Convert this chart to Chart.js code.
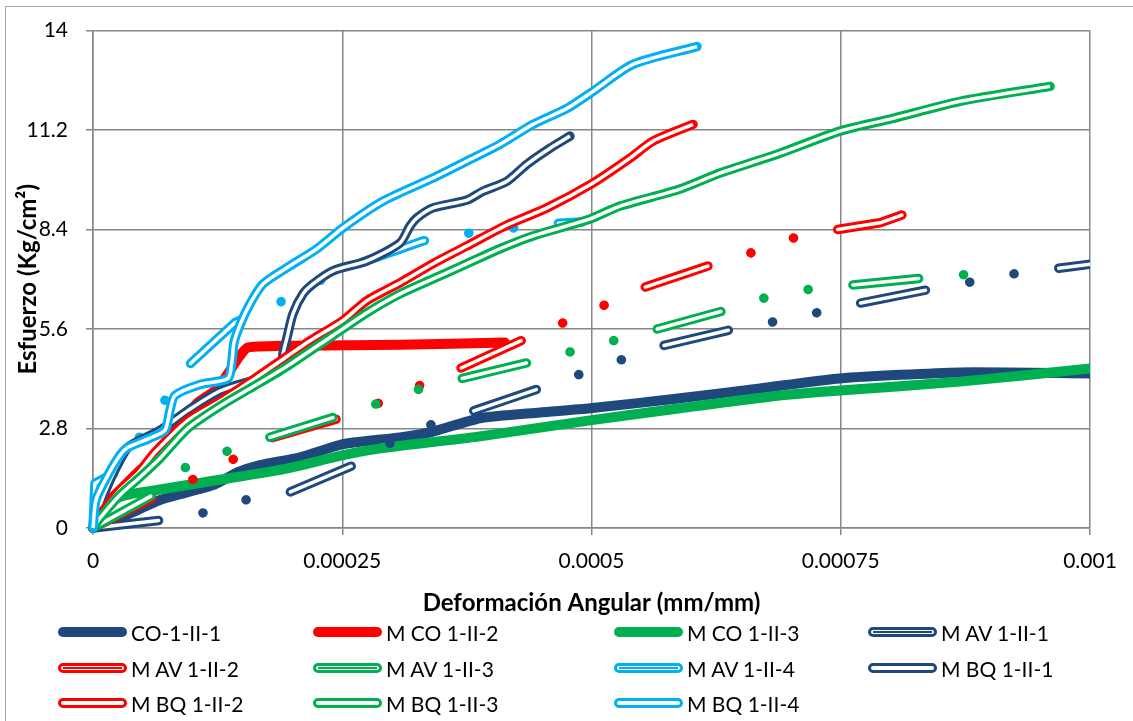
<!DOCTYPE html>
<html>
<head>
<meta charset="utf-8">
<script src="https://cdn.jsdelivr.net/npm/chart.js@4.4.0/dist/chart.umd.min.js"></script>
<style>
  body { margin: 0; background: #fff; font-family: Lato, sans-serif; }
  #frame { position: absolute; left: 5px; top: 6px; width: 1200px; height: 800px; border-left: 1px solid #a6a6a6; border-top: 1px solid #a6a6a6; }
  #wrap { position: absolute; left: 0; top: 0; width: 1133px; height: 625px; }
  #legend { position: absolute; left: 0; top: 0; width: 1133px; height: 721px; }
  .item { position: absolute; height: 30px; display: flex; align-items: center; font-size: 21px; color: #000; white-space: nowrap; }
  .swatch { position: relative; width: 69px; height: 10px; box-sizing: border-box; border-radius: 5px; margin-right: 4px; }
  .swatch .mid { position: absolute; left: 2px; right: 2px; top: 1px; height: 2px; }
</style>
</head>
<body>
<div id="frame"></div>
<div id="wrap"><canvas id="stressChart"></canvas></div>
<div id="legend"></div>
<script>
const NAVY = '#1F497D';
const RED = '#FF0000';
const GREEN = '#00B050';
const SKY = '#00B0F0';
const GRID = '#868686';

const xTicks = [0, 0.00025, 0.0005, 0.00075, 0.001];
const xTickLabels = ['0', '0.00025', '0.0005', '0.00075', '0.001'];
const yTicks = [0, 2.8, 5.6, 8.4, 11.2, 14];
const yTickLabels = ['0', '2.8', '5.6', '8.4', '11.2', '14'];

// CO-1-II-1
const co1X = [0, 0.0000221, 0.0000451, 0.0000672, 0.0000953, 0.0001224, 0.0001454, 0.0001675, 0.0002076, 0.0002508, 0.0003079, 0.000338, 0.0003882, 0.0004483, 0.0004985, 0.0005888, 0.000669, 0.0007492, 0.0008696, 0.001];
const co1Y = [0, 0.22, 0.51, 0.79, 1.01, 1.23, 1.57, 1.77, 1.99, 2.36, 2.55, 2.69, 3.09, 3.25, 3.37, 3.65, 3.93, 4.21, 4.38, 4.35];

// M CO 1-II-2
const mco2X = [0, 0.000007, 0.0000271, 0.0000471, 0.0000622, 0.0000822, 0.0001043, 0.0001224, 0.0001354, 0.0001474, 0.0001555, 0.0002076, 0.0003079, 0.0004132];
const mco2Y = [0, 0.51, 1.07, 1.63, 1.99, 2.75, 3.51, 3.87, 4.35, 4.85, 5.08, 5.13, 5.16, 5.22];

// M CO 1-II-3
const mco3X = [0, 0.000007, 0.0000191, 0.0000371, 0.0000642, 0.0001254, 0.0001956, 0.0002508, 0.0002879, 0.000338, 0.0003882, 0.0004985, 0.0005888, 0.0006891, 0.0007492, 0.0008696, 0.001];
const mco3Y = [0, 0.45, 0.79, 0.95, 1.07, 1.35, 1.68, 2.05, 2.24, 2.41, 2.58, 3.03, 3.37, 3.73, 3.87, 4.12, 4.49];

// M AV 1-II-1
const mav1X = [0, 0.0000772, 0.0001153, 0.0001555, 0.0001976, 0.0002658, 0.0003009, 0.00034, 0.0003801, 0.0004513, 0.0004905, 0.0005306, 0.0005687, 0.0006439, 0.0006841, 0.0007262, 0.0007663, 0.0008415, 0.0008816, 0.0009228, 0.0009629, 0.00101];
const mav1Y = [0, 0.25, 0.45, 0.81, 1.01, 1.82, 2.44, 2.92, 3.28, 3.96, 4.35, 4.74, 5.11, 5.61, 5.81, 6.06, 6.31, 6.73, 6.93, 7.15, 7.29, 7.46];

// M AV 1-II-2
const mav2X = [0, 0.0000672, 0.0001053, 0.0001424, 0.0001805, 0.0002497, 0.0002909, 0.00033, 0.0003681, 0.0004363, 0.0004744, 0.0005135, 0.0005517, 0.0006239, 0.000663, 0.0007021, 0.0007442, 0.0007894, 0.0008175];
const mav2Y = [0, 0.95, 1.43, 1.96, 2.55, 3.11, 3.56, 4.04, 4.49, 5.36, 5.81, 6.28, 6.76, 7.44, 7.77, 8.16, 8.39, 8.59, 8.87];

// M AV 1-II-3
const mav3X = [0, 0.0000672, 0.0000953, 0.0001344, 0.0001745, 0.0002477, 0.0002859, 0.000326, 0.0003661, 0.0004413, 0.0004804, 0.0005216, 0.0005607, 0.0006359, 0.000674, 0.0007161, 0.0007543, 0.0008345, 0.0008736];
const mav3Y = [0, 1.04, 1.77, 2.16, 2.53, 3.17, 3.51, 3.90, 4.18, 4.69, 4.97, 5.27, 5.56, 6.14, 6.48, 6.71, 6.82, 7.04, 7.13];

// M AV 1-II-4
const mav4X = [0, 0.000002, 0.0000271, 0.0000471, 0.0000702, 0.0000923, 0.0001424, 0.0001846, 0.0002227, 0.0002598, 0.000331, 0.0003711, 0.0004142, 0.0004554, 0.0004905];
const mav4Y = [0, 1.26, 1.63, 2.58, 3.51, 4.49, 5.78, 6.31, 6.90, 7.38, 8.08, 8.28, 8.42, 8.56, 8.61];

// M BQ 1-II-1
const mbq1X = [0, 0.000007, 0.0000171, 0.0000271, 0.0000351, 0.0000471, 0.0000672, 0.0000953, 0.0001284, 0.0001675, 0.0001876, 0.0001906, 0.0001946, 0.0002006, 0.0002106, 0.0002207, 0.0002407, 0.0002748, 0.0003079, 0.000318, 0.000325, 0.000341, 0.0003751, 0.0003912, 0.0004152, 0.0004353, 0.0004584, 0.0004784];
const mbq1Y = [0, 0.65, 1.35, 1.91, 2.27, 2.47, 2.75, 3.31, 3.87, 4.21, 4.43, 4.91, 5.36, 6.03, 6.59, 6.87, 7.24, 7.52, 8.02, 8.50, 8.73, 9.01, 9.23, 9.48, 9.76, 10.24, 10.69, 11.03];

// M BQ 1-II-2
const mbq2X = [0, 0.000007, 0.0000271, 0.0000451, 0.0000622, 0.0000953, 0.0001284, 0.0001625, 0.0001956, 0.0002177, 0.0002508, 0.0002748, 0.0003079, 0.000341, 0.0003751, 0.0004152, 0.0004554, 0.0005015, 0.0005386, 0.0005617, 0.0006018];
const mbq2Y = [0, 0.36, 1.07, 1.54, 2.13, 3.03, 3.59, 4.21, 4.85, 5.27, 5.84, 6.40, 6.90, 7.44, 7.94, 8.53, 9.01, 9.71, 10.41, 10.89, 11.36];

// M BQ 1-II-3
const mbq3X = [0, 0.000007, 0.0000271, 0.0000471, 0.0000672, 0.0000953, 0.0001284, 0.0001625, 0.0001956, 0.0002407, 0.0002748, 0.0003079, 0.000341, 0.0003751, 0.0004082, 0.0004413, 0.0004985, 0.0005286, 0.0005888, 0.0006289, 0.0006891, 0.0007492, 0.0008024, 0.0008696, 0.0009599];
const mbq3Y = [0, 0.28, 0.93, 1.43, 1.96, 2.81, 3.45, 4.01, 4.57, 5.42, 6.06, 6.59, 7.01, 7.44, 7.86, 8.22, 8.70, 9.06, 9.54, 9.99, 10.55, 11.17, 11.53, 12.01, 12.43];

// M BQ 1-II-4
const mbq4X = [0, 0.000003, 0.000015, 0.0000271, 0.0000351, 0.0000572, 0.0000722, 0.0000772, 0.0000822, 0.0001073, 0.0001354, 0.0001394, 0.0001414, 0.0001484, 0.0001575, 0.0001705, 0.0001976, 0.0002247, 0.0002508, 0.0002909, 0.000341, 0.0003751, 0.0004082, 0.0004413, 0.0004754, 0.0005015, 0.0005416, 0.0006058];
const mbq4Y = [0, 0.79, 1.49, 2.05, 2.27, 2.53, 2.75, 3.31, 3.73, 4.04, 4.21, 4.71, 5.22, 5.78, 6.31, 6.87, 7.38, 7.86, 8.45, 9.20, 9.85, 10.33, 10.80, 11.36, 11.81, 12.29, 13.05, 13.55];

// style: thick = solid heavy line, dashed = double outline long-dash-dot-dot, double = double solid line
const seriesList = [
  { label: 'CO-1-II-1', color: NAVY, style: 'thick', x: co1X, y: co1Y },
  { label: 'M CO 1-II-2', color: RED, style: 'thick', x: mco2X, y: mco2Y },
  { label: 'M CO 1-II-3', color: GREEN, style: 'thick', x: mco3X, y: mco3Y },
  { label: 'M AV 1-II-1', color: NAVY, style: 'dashed', x: mav1X, y: mav1Y },
  { label: 'M AV 1-II-2', color: RED, style: 'dashed', x: mav2X, y: mav2Y },
  { label: 'M AV 1-II-3', color: GREEN, style: 'dashed', x: mav3X, y: mav3Y },
  { label: 'M AV 1-II-4', color: SKY, style: 'dashed', x: mav4X, y: mav4Y },
  { label: 'M BQ 1-II-1', color: NAVY, style: 'double', x: mbq1X, y: mbq1Y },
  { label: 'M BQ 1-II-2', color: RED, style: 'double', x: mbq2X, y: mbq2Y },
  { label: 'M BQ 1-II-3', color: GREEN, style: 'double', x: mbq3X, y: mbq3Y },
  { label: 'M BQ 1-II-4', color: SKY, style: 'double', x: mbq4X, y: mbq4Y }
];

const DASH = [66, 45, 0.1, 45, 0.1, 45];
const DASH_INNER = [66, 135.2];
const CLIP = { left: 6, top: 6, right: 0, bottom: 6 };

const datasets = [];
seriesList.forEach((s, i) => {
  const pts = s.x.map((x, k) => ({ x: x, y: s.y[k] }));
  const order = 1000 - i * 10;
  const common = {
    data: pts, showLine: true, fill: false, pointRadius: 0, pointHoverRadius: 0,
    borderCapStyle: 'round', borderJoinStyle: 'round', clip: CLIP
  };
  if (s.style === 'thick') {
    datasets.push(Object.assign({}, common, { label: s.label, borderColor: s.color, borderWidth: 10, tension: 0.2, order: order }));
    return;
  }
  const dashed = s.style === 'dashed';
  const tension = dashed ? 0 : 0.25;
  datasets.push(Object.assign({}, common, {
    label: s.label, borderColor: s.color, borderWidth: 9.5,
    borderDash: dashed ? DASH : [], tension: tension, order: order
  }));
  datasets.push(Object.assign({}, common, {
    label: s.label + ' inner', borderColor: '#ffffff', borderWidth: 3.5,
    borderDash: dashed ? DASH_INNER : [], borderCapStyle: dashed ? 'round' : 'butt',
    tension: tension, order: order - 1
  }));
});

Chart.defaults.font.family = 'Lato, sans-serif';
Chart.defaults.color = '#000';

const ctx = document.getElementById('stressChart').getContext('2d');
const stressChart = new Chart(ctx, {
  type: 'scatter',
  data: { datasets: datasets },
  options: {
    responsive: true,
    maintainAspectRatio: false,
    animation: false,
    events: [],
    layout: { padding: { top: 29, right: 43, left: 0, bottom: 0 } },
    plugins: {
      legend: { display: false },
      tooltip: { enabled: false }
    },
    scales: {
      x: {
        type: 'linear',
        min: 0,
        max: 0.001,
        afterFit: scale => { scale.height = 97; },
        afterBuildTicks: scale => { scale.ticks = xTicks.map(v => ({ value: v })); },
        ticks: {
          padding: 14,
          maxRotation: 0,
          autoSkip: false,
          font: { size: 21 },
          callback: value => xTickLabels[xTicks.indexOf(value)]
        },
        grid: { color: GRID, lineWidth: 1.5, tickLength: 7 },
        border: { color: GRID, width: 1.5 },
        title: {
          display: true,
          text: 'Deformación Angular (mm/mm)',
          font: { size: 24, weight: 'bold' },
          padding: { top: 0, bottom: 7 }
        }
      },
      y: {
        type: 'linear',
        min: 0,
        max: 14,
        afterFit: scale => { scale.width = 93; },
        afterBuildTicks: scale => { scale.ticks = yTicks.map(v => ({ value: v })); },
        ticks: {
          padding: 18,
          autoSkip: false,
          font: { size: 21 },
          callback: value => yTickLabels[yTicks.indexOf(value)]
        },
        grid: { color: GRID, lineWidth: 1.5, tickLength: 7 },
        border: { color: GRID, width: 1.5 },
        title: {
          display: true,
          text: 'Esfuerzo (Kg/cm²)',
          font: { size: 24, weight: 'bold' },
          padding: { top: 14, bottom: 0 }
        }
      }
    }
  }
});

// legend drawn as html, 4 columns x 3 rows like the original
const legendCols = [58, 313, 614, 868];
const legendRows = [632, 668, 703];
const legendBox = document.getElementById('legend');
seriesList.forEach((s, i) => {
  const item = document.createElement('div');
  item.className = 'item';
  item.style.left = legendCols[i % 4] + 'px';
  item.style.top = (legendRows[Math.floor(i / 4)] - 15) + 'px';
  const sw = document.createElement('div');
  sw.className = 'swatch';
  if (s.style === 'thick') {
    sw.style.background = s.color;
  } else {
    sw.style.border = '3px solid ' + s.color;
    sw.style.background = '#fff';
    if (s.style === 'dashed') {
      const mid = document.createElement('div');
      mid.className = 'mid';
      mid.style.background = s.color;
      sw.appendChild(mid);
    }
  }
  const txt = document.createElement('span');
  txt.textContent = s.label;
  item.appendChild(sw);
  item.appendChild(txt);
  legendBox.appendChild(item);
});
</script>
</body>
</html>
